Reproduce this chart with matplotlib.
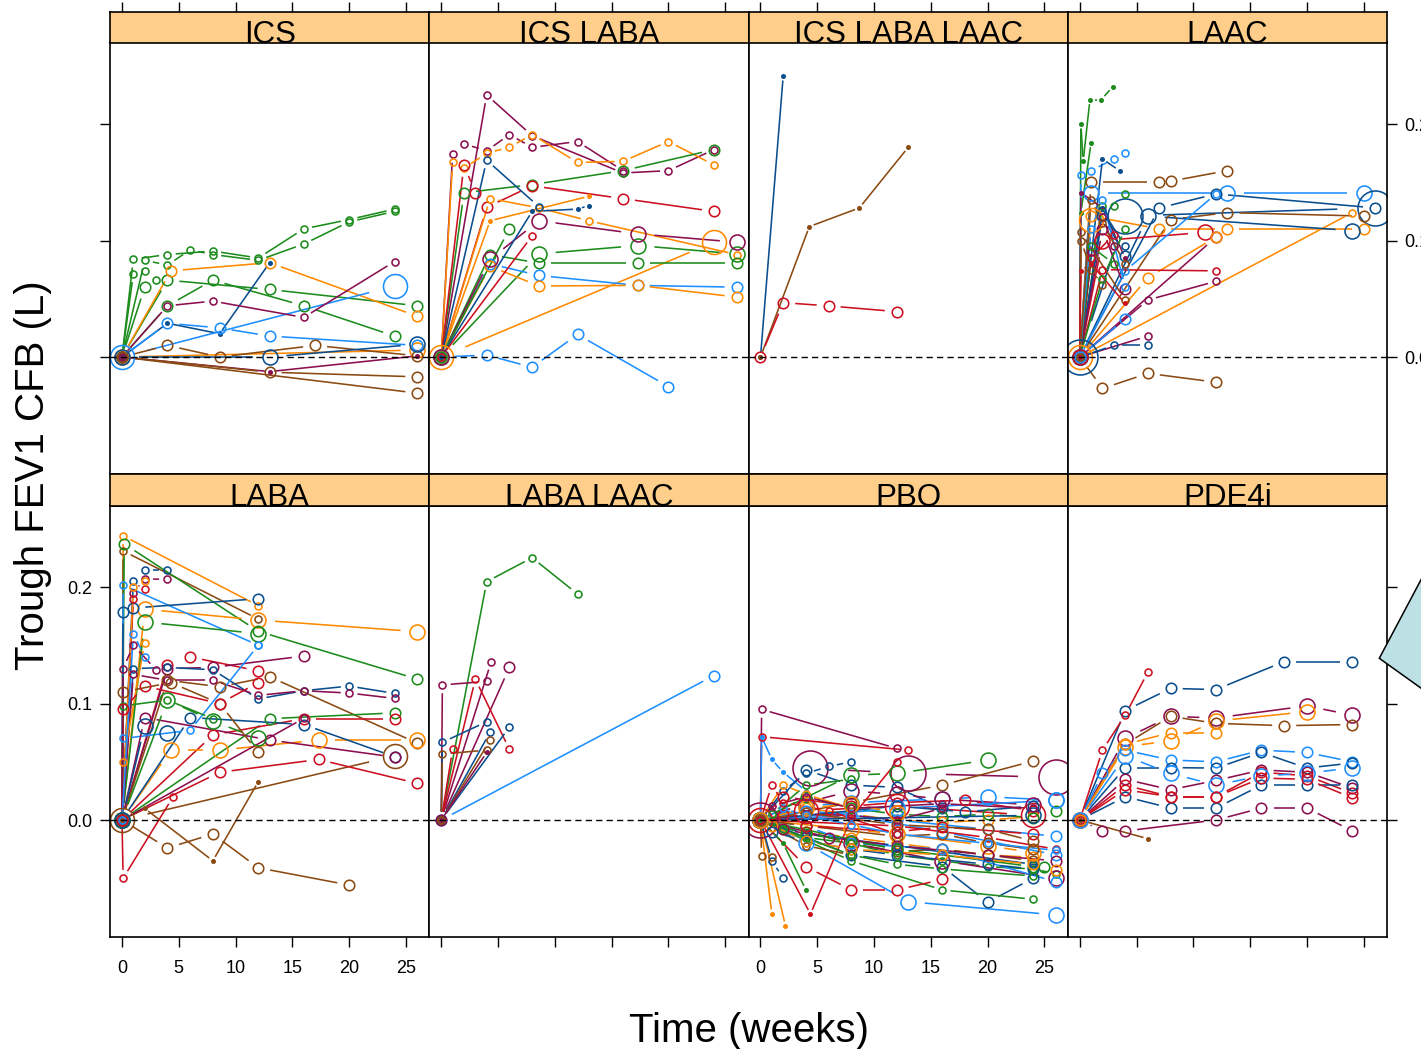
import numpy as np
import matplotlib
matplotlib.use('Agg')
import matplotlib.pyplot as plt
from matplotlib.collections import LineCollection
from matplotlib.patches import Polygon

plt.rcParams['font.family'] = ['Liberation Sans', 'DejaVu Sans']

# ---------------- data ----------------
PANELS = ['ICS', 'ICS LABA', 'ICS LABA LAAC', 'LAAC', 'LABA', 'LABA LAAC', 'PBO', 'PDE4i']
X_TICKS = [0, 5, 10, 15, 20, 25]
X_TICK_LABELS = ['0', '5', '10', '15', '20', '25']
Y_TICKS = [0.0, 0.1, 0.2]
Y_TICK_LABELS = ['0.0', '0.1', '0.2']
X_LABEL = 'Time (weeks)'
Y_LABEL = 'Trough FEV1 CFB (L)'

# each trace: (colour key, size class ~ number of subjects, weeks, change from baseline)
ICS = [
    ('GR', 's', [0, 1, 4, 8, 12, 16, 20, 24], [0, 0.084, 0.088, 0.091, 0.085, 0.110, 0.118, 0.127]),
    ('GR', 's', [0, 2, 4, 6, 8, 12, 16, 20, 24], [0, 0.083, 0.079, 0.092, 0.088, 0.083, 0.097, 0.116, 0.125]),
    ('GR', 's', [0, 1, 2, 3], [0, 0.0715, 0.074, 0.066]),
    ('GR', 'm', [0, 4, 13, 26], [0, 0.066, 0.058, 0.044]),
    ('GR', 'm', [0, 4, 8, 16, 24], [0, 0.044, 0.066, 0.044, 0.018]),
    ('GR', 'm', [0, 2], [0, 0.060]),
    ('OR', 'm', [0, 4.3, 13, 26], [0, 0.074, 0.081, 0.035]),
    ('OR', 'l', [0, 26], [0, 0.006]),
    ('DB', 'd', [0, 4, 8.6, 13], [0, 0.029, 0.020, 0.081]),
    ('LB', 'm', [0, 4, 8.6, 13, 26], [0, 0.029, 0.025, 0.018, 0.010]),
    ('LB', 'x', [0, 24], [0, 0.061]),
    ('MR', 's', [0, 4, 8, 16, 24], [0, 0.044, 0.048, 0.034, 0.082]),
    ('MR', 'd', [0, 13, 26], [0, -0.0125, 0.001]),
    ('BR', 'm', [0, 4, 8.6, 17, 26], [0, 0.010, 0.0, 0.010, 0.001]),
    ('BR', 'm', [0, 13, 26], [0, -0.013, -0.017]),
    ('BR', 'm', [0, 26], [0, -0.031]),
    ('DB', 'l', [0, 13, 26], [0, 0.0, 0.011]),
]

ICS_LABA = [
    ('MR', 's', [0, 4, 8, 16, 20, 24], [0, 0.225, 0.190, 0.158, 0.160, 0.178]),
    ('MR', 's', [0, 1, 2, 4, 6, 8, 12, 16], [0, 0.174, 0.183, 0.177, 0.191, 0.180, 0.185, 0.160]),
    ('OR', 's', [0, 1, 2, 4, 6, 8, 12, 16, 20, 24], [0, 0.167, 0.162, 0.175, 0.180, 0.191, 0.167, 0.168, 0.185, 0.165]),
    ('GR', 'm', [0, 2, 8, 16, 24], [0, 0.141, 0.148, 0.160, 0.178]),
    ('RD', 'm', [0, 4, 8, 16, 24], [0, 0.1285, 0.147, 0.136, 0.125]),
    ('RD', 'm', [0, 2, 3], [0, 0.165, 0.141]),
    ('OR', 'x', [0, 24], [0, 0.0986]),
    ('OR', 's', [0, 4.3, 8.6, 13, 26], [0, 0.136, 0.128, 0.117, 0.088]),
    ('OR', 'd', [0, 4.3, 13], [0, 0.117, 0.138]),
    ('LB', 'm', [0, 4, 8, 12, 20], [0, 0.0017, -0.0088, 0.0194, -0.0254]),
    ('GR', 'l', [0, 8.6, 17.3, 26], [0, 0.0886, 0.0957, 0.0886]),
    ('GR', 'm', [0, 4.3, 8.6, 17.3, 26], [0, 0.088, 0.0806, 0.0806, 0.0806]),
    ('LB', 'm', [0, 4.3, 8.6, 17.3, 26], [0, 0.080, 0.070, 0.0615, 0.060]),
    ('OR', 'm', [0, 4.3, 8.6, 17.3, 26], [0, 0.078, 0.061, 0.0615, 0.0515]),
    ('MR', 'l', [0, 4.3, 8.6, 17.3, 26], [0, 0.084, 0.117, 0.1057, 0.0986]),
    ('GR', 'm', [0, 6], [0, 0.110]),
    ('DB', 'd', [0, 8, 12, 13], [0, 0.125, 0.127, 0.130]),
    ('DB', 's', [0, 4, 8.6], [0, 0.169, 0.129]),
    ('RD', 's', [0, 8], [0, 0.104]),
]

ICS_LABA_LAAC = [
    ('DB', 'd', [0, 2], [0, 0.2413]),
    ('BR', 'd', [0, 4.3, 8.7, 13], [0, 0.112, 0.128, 0.180]),
    ('RD', 'm', [0, 2, 6, 12], [0, 0.0467, 0.0439, 0.039]),
]

LAAC = [
    ('GR', 'd', [0, 0.1, 0.3, 0.9, 1.9, 2.9], [0, 0.200, 0.168, 0.221, 0.221, 0.232]),
    ('GR', 'd', [0, 0.1, 1], [0, 0.124, 0.184]),
    ('LB', 's', [0, 0.1, 1, 3, 4], [0, 0.156, 0.160, 0.170, 0.175]),
    ('DB', 'd', [0, 2, 3.5], [0, 0.170, 0.160]),
    ('BR', 'm', [0, 1, 7, 8, 13], [0, 0.150, 0.150, 0.151, 0.160]),
    ('LB', 'l', [0, 1, 13, 25], [0, 0.141, 0.141, 0.141]),
    ('DB', 'h', [0, 4, 26], [0, 0.121, 0.128]),
    ('DB', 'm', [0, 7, 12, 26], [0, 0.128, 0.140, 0.128]),
    ('OR', 'm', [0, 1, 7, 13, 25], [0, 0.121, 0.110, 0.110, 0.110]),
    ('BR', 'm', [0, 8, 13, 25], [0, 0.118, 0.124, 0.121]),
    ('OR', 's', [0, 24], [0, 0.124]),
    ('DB', 'l', [0, 6, 24], [0, 0.121, 0.1085]),
    ('RD', 'l', [0, 2, 11], [0, 0.100, 0.107]),
    ('MR', 'm', [0, 12], [0, 0.103]),
    ('OR', 'm', [0, 6, 12], [0, 0.068, 0.103]),
    ('LB', 's', [0, 4, 12], [0, 0.074, 0.140]),
    ('RD', 's', [0, 2, 12], [0, 0.075, 0.074]),
    ('MR', 's', [0, 6, 12], [0, 0.049, 0.065]),
    ('MR', 's', [0, 6], [0, 0.018]),
    ('DB', 's', [0, 3, 6], [0, 0.010, 0.010]),
    ('BR', 'm', [0, 2, 6, 12], [0, -0.027, -0.014, -0.0216]),
    ('MR', 'd', [0, 0.1, 2, 4], [0, 0.141, 0.128, 0.085]),
    ('GR', 's', [0, 2, 3, 4], [0, 0.130, 0.130, 0.140]),
    ('DB', 's', [0, 2, 4], [0, 0.126, 0.095]),
    ('DB', 'm', [0, 2, 4], [0, 0.121, 0.087]),
    ('MR', 'm', [0, 2, 4], [0, 0.110, 0.058]),
    ('BR', 's', [0, 0.1, 4], [0, 0.107, 0.049]),
    ('BR', 's', [0, 0.1, 1, 2], [0, 0.100, 0.075, 0.062]),
    ('RD', 'd', [0, 0.1, 1, 4], [0, 0.074, 0.080, 0.046]),
    ('LB', 'm', [0, 4], [0, 0.033]),
    ('GR', 's', [0, 2, 4], [0, 0.067, 0.110]),
    ('RD', 's', [0, 1, 3], [0, 0.085, 0.105]),
    ('OR', 'x', [0, 1], [0, 0.118]),
    ('MR', 's', [0, 1, 2, 3], [0, 0.090, 0.120, 0.095]),
    ('GR', 's', [0, 1, 3], [0, 0.095, 0.080]),
    ('LB', 's', [0, 1, 2, 4], [0, 0.110, 0.135, 0.060]),
    ('BR', 's', [0, 1, 2, 4], [0, 0.135, 0.115, 0.080]),
]

LABA = [
    ('OR', 's', [0, 0.1, 12], [0, 0.244, 0.184]),
    ('BR', 's', [0, 0.1, 12], [0, 0.231, 0.1725]),
    ('GR', 'm', [0, 0.2, 12, 26], [0, 0.237, 0.162, 0.121]),
    ('OR', 'l', [0, 2, 12, 26], [0, 0.181, 0.1717, 0.1617]),
    ('LB', 's', [0, 0.1, 12], [0, 0.2017, 0.150]),
    ('DB', 'm', [0, 0.1, 1, 12], [0, 0.179, 0.182, 0.190]),
    ('GR', 'l', [0, 2, 12], [0, 0.170, 0.160]),
    ('DB', 's', [0, 1, 2, 4], [0, 0.205, 0.2146, 0.2146]),
    ('MR', 's', [0, 1, 2, 4], [0, 0.195, 0.207, 0.2066]),
    ('RD', 's', [0, 1, 2], [0, 0.190, 0.198]),
    ('OR', 's', [0, 1, 2], [0, 0.200, 0.205]),
    ('RD', 'm', [0, 4, 6, 12], [0, 0.133, 0.140, 0.128]),
    ('MR', 'm', [0, 4, 8, 16], [0, 0.130, 0.131, 0.1408]),
    ('BR', 'm', [0, 4, 8.6, 13, 26], [0, 0.120, 0.1144, 0.123, 0.066]),
    ('DB', 's', [0, 1, 4, 8, 12, 16, 20, 24], [0, 0.130, 0.131, 0.129, 0.104, 0.111, 0.115, 0.1087]),
    ('MR', 's', [0, 1, 4, 8, 12, 16, 20, 24], [0, 0.125, 0.120, 0.120, 0.107, 0.111, 0.109, 0.1044]),
    ('GR', 'm', [0, 13, 24], [0, 0.087, 0.092]),
    ('RD', 'm', [0, 8, 16, 24], [0, 0.073, 0.087, 0.087]),
    ('OR', 'l', [0, 4.3, 8.6, 17.3, 26], [0, 0.060, 0.060, 0.0687, 0.0687]),
    ('BR', 'x', [0, 24], [0, 0.055]),
    ('DB', 'm', [0, 6, 16, 24], [0, 0.088, 0.082, 0.0543]),
    ('RD', 'm', [0, 8.6, 17.3, 26], [0, 0.041, 0.052, 0.0315]),
    ('BR', 'd', [0, 2, 8, 12], [0, 0.010, -0.035, 0.033]),
    ('BR', 'm', [0, 4, 8, 12, 20], [0, -0.024, -0.012, -0.041, -0.0558]),
    ('RD', 's', [0, 0.1, 4.5], [0, -0.050, 0.020]),
    ('LB', 's', [0, 0.1, 6, 12], [0, 0.070, 0.077, 0.150]),
    ('MR', 's', [0, 16], [0, 0.0873]),
    ('MR', 'm', [0, 2, 13, 24], [0, 0.088, 0.0687, 0.054]),
    ('GR', 'l', [0, 4, 8, 12], [0, 0.103, 0.085, 0.070]),
    ('OR', 's', [0, 0.1, 2], [0, 0.050, 0.152]),
    ('DB', 'l', [0, 2, 4], [0, 0.081, 0.075]),
    ('BR', 'm', [0, 0.1, 4.3, 8.6, 12], [0, 0.110, 0.118, 0.100, 0.058]),
    ('GR', 's', [0, 0.1, 4, 8], [0, 0.098, 0.103, 0.087]),
    ('RD', 'm', [0, 0.1, 2, 8.6, 12], [0, 0.095, 0.115, 0.100, 0.118]),
    ('MR', 's', [0, 0.1, 1, 3], [0, 0.130, 0.150, 0.129]),
    ('LB', 's', [0, 1, 2], [0, 0.160, 0.140]),
]

LABA_LAAC = [
    ('GR', 's', [0, 4, 8, 12], [0, 0.2046, 0.2252, 0.194]),
    ('LB', 'm', [0, 24], [0, 0.124]),
    ('MR', 's', [0, 0.1, 4], [0, 0.116, 0.119]),
    ('MR', 's', [0, 4.4], [0, 0.136]),
    ('MR', 'm', [0, 6], [0, 0.131]),
    ('RD', 's', [0, 3, 6], [0, 0.121, 0.0607]),
    ('RD', 's', [0, 1], [0, 0.0607]),
    ('DB', 's', [0, 0.1, 4], [0, 0.0667, 0.0844]),
    ('DB', 's', [0, 4.3], [0, 0.0755]),
    ('DB', 's', [0, 6], [0, 0.0798]),
    ('BR', 's', [0, 0.1, 4], [0, 0.0567, 0.060]),
    ('BR', 's', [0, 4.3], [0, 0.0684]),
    ('MR', 'd', [0, 4], [0, 0.058]),
]

PBO = [
    ('MR', 's', [0, 0.1, 12], [0, 0.095, 0.0615]),
    ('RD', 's', [0, 0.1, 13], [0, 0.0715, 0.060]),
    ('LB', 'd', [0, 0.1, 1, 2, 4], [0, 0.0715, 0.052, 0.041, 0.025]),
    ('MR', 'h', [0, 4.4, 13, 26], [0, 0.0444, 0.040, 0.0366]),
    ('GR', 'l', [0, 8, 12, 20], [0, 0.0386, 0.040, 0.0515]),
    ('BR', 'm', [0, 8, 16, 24], [0, 0.015, 0.030, 0.0506]),
    ('DB', 's', [0, 2, 4, 6, 8], [0, 0.025, 0.040, 0.046, 0.050]),
    ('DB', 'm', [0, 4, 8, 12, 16], [0, 0.043, 0.030, 0.028, 0.010]),
    ('LB', 'l', [0, 4, 8, 16, 20, 26], [0, 0.012, 0.015, 0.018, 0.020, 0.017]),
    ('RD', 'm', [0, 2, 8, 12, 18, 24], [0, 0.020, 0.012, 0.015, 0.017, 0.008]),
    ('MR', 'l', [0, 4, 8, 12, 16, 24], [0, 0.015, 0.025, 0.022, 0.018, 0.013]),
    ('OR', 'm', [0, 4, 8, 12, 16, 20, 24], [0, 0.010, 0.005, 0.000, -0.002, 0.000, 0.003]),
    ('GR', 'm', [0, 4, 8, 12, 16, 20, 24, 26], [0, 0.020, 0.010, 0.005, 0.003, 0.005, 0.002, 0.008]),
    ('OR', 'm', [0, 1, 2, 4, 8, 12, 16, 20, 24], [0, -0.005, -0.008, -0.010, -0.015, -0.020, -0.025, -0.030, -0.032]),
    ('BR', 'm', [0, 4, 8, 12, 16, 20, 24], [0, -0.010, -0.020, -0.027, -0.025, -0.030, -0.035]),
    ('GR', 's', [0, 4, 8, 12, 16, 20, 24, 26], [0, -0.015, -0.020, -0.030, -0.035, -0.040, -0.042, -0.046]),
    ('LB', 'l', [0, 4, 13, 26], [0, -0.020, -0.070, -0.0815]),
    ('DB', 'm', [0, 8, 16, 20, 24], [0, -0.030, -0.040, -0.0705, -0.050]),
    ('GR', 's', [0, 8, 16, 24], [0, -0.035, -0.060, -0.068]),
    ('RD', 'm', [0, 4, 8, 12, 16], [0, -0.040, -0.060, -0.060, -0.051]),
    ('OR', 'd', [0, 1], [0, -0.0807]),
    ('OR', 'd', [0, 2.2], [0, -0.091]),
    ('RD', 'd', [0, 4.4, 8], [0, -0.0807, 0.002]),
    ('GR', 'd', [0, 2, 4], [0, -0.020, -0.060]),
    ('DB', 's', [0, 1, 2], [0, -0.035, -0.050]),
    ('BR', 's', [0, 0.1, 1], [0, -0.031, -0.032]),
    ('MR', 'l', [0, 8, 16, 26], [0, -0.020, -0.035, -0.050]),
    ('GR', 'm', [0, 12, 24, 25], [0, -0.025, -0.040, -0.040]),
    ('LB', 'm', [0, 4, 8, 16, 26], [0, -0.005, -0.020, -0.025, -0.053]),
    ('LB', 'm', [0, 8, 16, 26], [0, 0.004, -0.010, -0.030]),
    ('LB', 'm', [0, 4, 12, 20, 26], [0, 0.008, 0.000, -0.008, -0.014]),
    ('LB', 'l', [0, 12, 26], [0, 0.010, 0.017]),
    ('RD', 's', [0, 12, 20, 26], [0, -0.005, -0.015, -0.025]),
    ('DB', 's', [0, 4, 12, 24], [0, -0.012, -0.022, -0.038]),
    ('OR', 'l', [0, 8, 12, 20, 24], [0, -0.008, -0.012, -0.022, -0.028]),
    ('BR', 'm', [0, 4, 12, 16, 20, 24], [0, -0.005, -0.014, -0.012, -0.020, -0.025]),
    ('MR', 'm', [0, 2, 6, 12, 20, 26], [0, -0.008, -0.015, -0.022, -0.030, -0.035]),
    ('RD', 'x', [0, 4, 12, 24], [0, 0.008, 0.012, 0.004]),
    ('GR', 's', [0, 1, 4, 8], [0, 0.005, 0.030, 0.035]),
    ('DB', 'm', [0, 12, 18, 24], [0, 0.012, 0.007, 0.012]),
    ('RD', 's', [0, 8, 12], [0, 0.002, 0.050]),
    ('OR', 's', [0, 2, 4, 8], [0, 0.030, 0.022, 0.010]),
    ('MR', 's', [0, 4, 8, 12, 16], [0, 0.005, 0.004, 0.000, 0.010]),
    ('BR', 's', [0, 4, 8], [0, -0.022, -0.030]),
    ('DB', 'l', [0, 24], [0, 0.004]),
    ('OR', 'l', [0, 4, 8, 12], [0, 0.010, 0.014, 0.006]),
    ('GR', 'm', [0, 4, 8, 12], [0, -0.012, -0.018, -0.025]),
    ('RD', 'm', [0, 2, 4, 12, 16, 24], [0, 0.004, -0.005, -0.010, -0.006, -0.012]),
    ('DB', 'm', [0, 1, 4, 8, 12, 20, 24], [0, -0.010, -0.018, -0.025, -0.030, -0.038, -0.042]),
    ('OR', 'm', [0, 4, 8, 16, 24, 26], [0, -0.018, -0.025, -0.030, -0.038, -0.043]),
    ('BR', 'm', [0, 4, 12, 20, 24], [0, 0.006, -0.004, -0.008, -0.018]),
    ('GR', 's', [0, 2, 8, 12, 16, 24], [0, -0.008, -0.030, -0.038, -0.042, -0.048]),
    ('LB', 's', [0, 2, 4, 8, 12, 20, 26], [0, 0.010, 0.004, -0.004, -0.012, -0.020, -0.026]),
    ('MR', 's', [0, 1, 4, 8, 16, 24], [0, 0.012, 0.020, 0.010, 0.014, 0.010]),
    ('RD', 's', [0, 1, 2, 6, 12], [0, 0.030, 0.015, 0.008, -0.012]),
]

PDE4i = [
    ('DB', 'm', [0, 4, 8, 12, 18, 24], [0, 0.094, 0.113, 0.112, 0.136, 0.136]),
    ('RD', 's', [0, 2, 4, 6], [0, 0.060, 0.090, 0.127]),
    ('MR', 'l', [0, 4, 8, 12, 20, 24], [0, 0.070, 0.089, 0.0876, 0.098, 0.090]),
    ('BR', 'm', [0, 4, 8, 12, 18, 24], [0, 0.065, 0.089, 0.083, 0.081, 0.082]),
    ('OR', 'l', [0, 4, 8, 12, 20], [0, 0.063, 0.068, 0.085, 0.093]),
    ('LB', 'm', [0, 2, 4, 8, 12, 16, 20, 24], [0, 0.040, 0.060, 0.0515, 0.050, 0.060, 0.058, 0.050]),
    ('DB', 'm', [0, 4, 8, 12, 16, 20, 24], [0, 0.045, 0.045, 0.0446, 0.058, 0.0446, 0.049]),
    ('MR', 'm', [0, 4, 8, 12, 16, 20, 24], [0, 0.035, 0.026, 0.034, 0.043, 0.041, 0.0275]),
    ('RD', 'm', [0, 4, 8, 12, 16, 20, 24], [0, 0.030, 0.020, 0.020, 0.041, 0.038, 0.023]),
    ('DB', 'm', [0, 4, 8, 12, 16, 20, 24], [0, 0.020, 0.0103, 0.0103, 0.030, 0.030, 0.030]),
    ('MR', 'm', [0, 2, 4, 12, 16, 20, 24], [0, -0.0094, -0.0094, 0.0, 0.0103, 0.0103, -0.0094]),
    ('BR', 'd', [0, 6], [0, -0.016]),
    ('LB', 'l', [0, 4, 8, 12, 16, 20, 24], [0, 0.055, 0.040, 0.030, 0.038, 0.040, 0.045]),
    ('RD', 'm', [0, 4, 8, 12, 16, 20, 24], [0, 0.026, 0.020, 0.020, 0.036, 0.035, 0.019]),
    ('OR', 'm', [0, 4, 8, 12], [0, 0.065, 0.075, 0.075]),
]

PANEL_DATA = [ICS, ICS_LABA, ICS_LABA_LAAC, LAAC, LABA, LABA_LAAC, PBO, PDE4i]

# ---------------- style ----------------
PAL = {'DB': '#0B4E8E', 'LB': '#1E8FFF', 'OR': '#FF8A00', 'GR': '#1C8C1C',
       'RD': '#CC1020', 'MR': '#8B0F4F', 'BR': '#8B4A12'}
SIZE_PX = {'d': 3.4, 's': 7.0, 'm': 10.5, 'l': 15.0, 'x': 24.0, 'h': 35.0}
STRIP_COL = '#FECE8A'
LW = 1.15

W, H = 1421, 1049
fig = plt.figure(figsize=(W / 100, H / 100), dpi=100)

XL = (-1.056, 27.05)
YL = (-0.1004, 0.2700)
COLS = [110, 429.25, 748.5, 1067.75, 1387]
ROWS = [(11.5, 42.5, 474.0), (474.0, 505.5, 937.0)]


def rect(x0, x1, ytop, ybot):
    return [x0 / W, 1 - ybot / H, (x1 - x0) / W, (ybot - ytop) / H]


def draw_trace(ax, tr):
    ck, sk, xs, ys = tr
    c = PAL[ck]
    d = SIZE_PX[sk]
    r = d / 2.0
    xs = np.asarray(xs, float)
    ys = np.asarray(ys, float)
    P = ax.transData.transform(np.column_stack([xs, ys]))
    inv = ax.transData.inverted()
    gap = 2.1 * r + 1.0
    segs = []
    for i in range(len(P) - 1):
        a, b = P[i], P[i + 1]
        v = b - a
        L = np.hypot(v[0], v[1])
        if L <= 2 * gap + 1:
            continue
        u = v / L
        segs.append(inv.transform(np.array([a + u * gap, b - u * gap])))
    if segs:
        ax.add_collection(LineCollection(segs, colors=c, linewidths=LW,
                                         capstyle='butt', zorder=2))
    ax.plot(xs, ys, ls='none', marker='o', ms=d / 1.389,
            mfc=(c if sk == 'd' else 'none'), mec=c, mew=LW, zorder=2.5)


for i, name in enumerate(PANELS):
    r, c = divmod(i, 4)
    st, pt, pb = ROWS[r]
    ax = fig.add_axes(rect(COLS[c], COLS[c + 1], pt, pb))
    sax = fig.add_axes(rect(COLS[c], COLS[c + 1], st, pt))

    ax.set_xlim(XL)
    ax.set_ylim(YL)
    ax.set_autoscale_on(False)
    for tr in PANEL_DATA[i]:
        draw_trace(ax, tr)
    ax.axhline(0, color='black', lw=1.0, ls=(0, (4.5, 3)), zorder=3)
    ax.set_xlim(XL)
    ax.set_ylim(YL)

    ax.set_xticks(X_TICKS)
    ax.set_xticklabels(X_TICK_LABELS)
    ax.set_yticks(Y_TICKS)
    ax.set_yticklabels(Y_TICK_LABELS)
    ax.tick_params(axis='x', bottom=(r == 1), top=False,
                   labelbottom=(r == 1 and c in (0, 2)), labeltop=False,
                   direction='out', length=7, width=1.0, pad=9.5, labelsize=13)
    ax.tick_params(axis='y', left=(c == 0), right=(c == 3),
                   labelleft=(c == 0 and r == 1), labelright=(c == 3 and r == 0),
                   direction='out', length=7, width=1.0, pad=5.5, labelsize=13)
    for s in ax.spines.values():
        s.set_linewidth(1.2)

    sax.set_facecolor(STRIP_COL)
    sax.set_xlim(XL)
    sax.set_ylim(0, 1)
    sax.set_xticks(X_TICKS)
    sax.set_yticks([])
    sax.tick_params(axis='x', bottom=False, labelbottom=False, top=(r == 0),
                    labeltop=False, direction='out', length=7, width=1.0)
    for s in sax.spines.values():
        s.set_linewidth(1.2)
    sax.text(0.5, -0.02, name, ha='center', va='baseline', fontsize=22.5,
             transform=sax.transAxes, clip_on=False, zorder=5)

fig.text(33 / W, 1 - 475 / H, Y_LABEL, rotation=90, ha='center', va='center', fontsize=29)
fig.text(749 / W, 1 - 1042 / H, X_LABEL, ha='center', va='baseline', fontsize=29)

# callout shape partly visible at the right edge
poly = Polygon([(1379.3 / W, 1 - 658.3 / H), (1432 / W, 1 - 559 / H), (1432 / W, 1 - 696 / H)],
               closed=True, transform=fig.transFigure, facecolor='#BDE0E4',
               edgecolor='black', lw=1.1, zorder=10)
fig.patches.append(poly)

fig.savefig('out.png', dpi=100)
